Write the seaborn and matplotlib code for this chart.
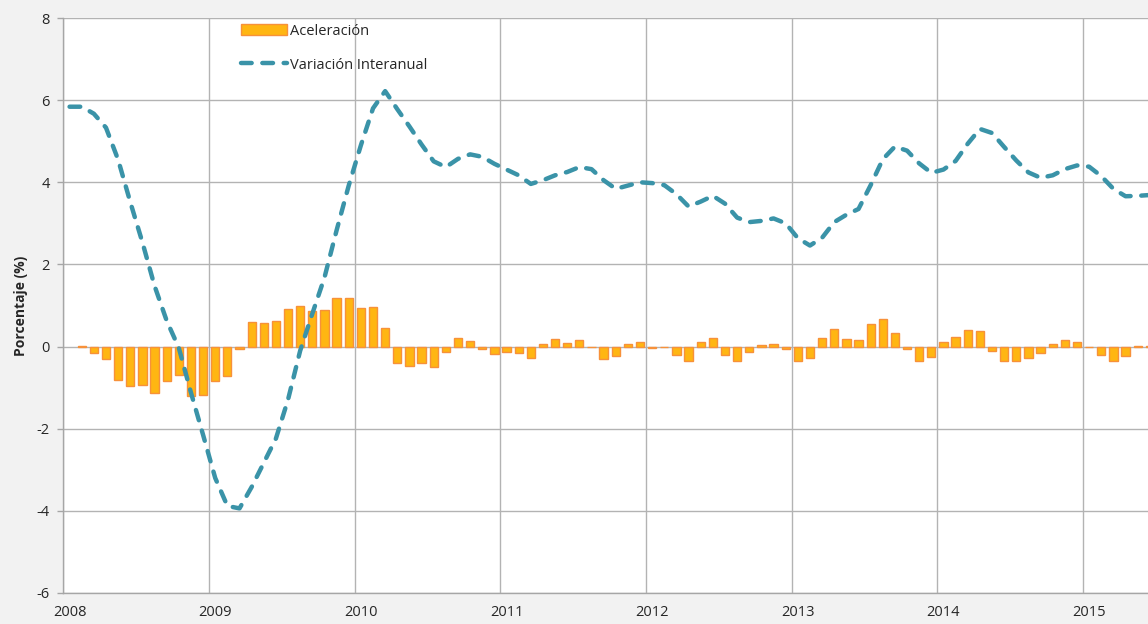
import numpy as np
import pandas as pd
import matplotlib.pyplot as plt
import seaborn as sns
from matplotlib.patches import Patch

# -------------------------
# Data (monthly, Jan 2008 - Jun 2015)
# -------------------------
years = [2008, 2009, 2010, 2011, 2012, 2013, 2014, 2015]

# month-on-month change of the year-on-year rate (bars)
aceleracion = [
    None, 0.02, -0.15, -0.31, -0.82, -0.96, -0.94, -1.12, -0.84, -0.70, -1.20, -1.17,
    -0.84, -0.71, -0.05, 0.59, 0.57, 0.63, 0.92, 0.99, 0.86, 0.90, 1.19, 1.19,
    0.95, 0.97, 0.46, -0.41, -0.47, -0.40, -0.49, -0.13, 0.20, 0.14, -0.05, -0.19,
    -0.12, -0.16, -0.27, 0.07, 0.18, 0.09, 0.15, -0.02, -0.30, -0.24, 0.07, 0.10,
    -0.03, -0.02, -0.21, -0.35, 0.10, 0.20, -0.20, -0.34, -0.14, 0.05, 0.07, -0.07,
    -0.35, -0.29, 0.20, 0.42, 0.19, 0.16, 0.56, 0.68, 0.32, -0.07, -0.36, -0.25,
    0.10, 0.24, 0.41, 0.37, -0.10, -0.35, -0.34, -0.29, -0.15, 0.07, 0.15, 0.11,
    -0.02, -0.20, -0.35, -0.22, 0.02, 0.02,
]

# year-on-year rate (dashed line)
variacion = [
    5.84, 5.84, 5.67, 5.33, 4.55, 3.52, 2.54, 1.48, 0.63, -0.03, -1.12, -2.15,
    -3.20, -3.88, -3.94, -3.42, -2.83, -2.24, -1.29, -0.10, 0.80, 1.68, 2.83, 3.92,
    4.90, 5.80, 6.22, 5.78, 5.36, 4.92, 4.51, 4.37, 4.57, 4.68, 4.62, 4.45,
    4.31, 4.17, 3.96, 4.05, 4.17, 4.25, 4.37, 4.32, 4.05, 3.84, 3.92, 4.00,
    3.98, 3.93, 3.71, 3.41, 3.53, 3.67, 3.48, 3.14, 3.03, 3.06, 3.12, 3.00,
    2.64, 2.46, 2.65, 3.03, 3.21, 3.35, 3.93, 4.56, 4.87, 4.77, 4.46, 4.23,
    4.31, 4.52, 4.94, 5.30, 5.20, 4.86, 4.53, 4.24, 4.11, 4.17, 4.32, 4.41,
    4.38, 4.15, 3.84, 3.66, 3.67, 3.69,
]

df = pd.DataFrame({
    "mes": np.arange(len(variacion)),
    "aceleracion": aceleracion,
    "variacion": variacion,
})

bar_fill = "#FFB612"
bar_edge = "#F7913A"
line_col = "#3A93A8"
grid_col = "#B3B3B3"

# -------------------------
# Style
# -------------------------
sns.set_style("white")
plt.rcParams["font.family"] = ["Open Sans", "DejaVu Sans"]
plt.rcParams["axes.unicode_minus"] = False

fig = plt.figure(figsize=(11.48, 6.24), dpi=100, facecolor="#F2F2F2")
ax = fig.add_axes([63.5 / 1148, 1 - 593 / 624, 1 - 63.5 / 1148, (593 - 18) / 624])
ax.set_facecolor("white")

# -------------------------
# Plot
# -------------------------
sns.lineplot(data=df, x="mes", y="variacion", color=line_col, linewidth=3.2,
             linestyle=(0, (2.4, 2.4)), dash_capstyle="round", zorder=3, ax=ax)

sns.barplot(data=df.dropna(subset=["aceleracion"]), x="mes", y="aceleracion",
            native_scale=True, color=bar_fill, saturation=1, edgecolor=bar_edge,
            linewidth=1, width=0.68, errorbar=None, zorder=2, ax=ax)

# -------------------------
# Axes
# -------------------------
ax.set_xlim(-0.5, 88.85)
ax.set_ylim(-6, 8)
ax.set_yticks(range(-6, 9, 2))

ax.set_xticks([12 * k - 0.5 for k in range(len(years))])
ax.set_xticklabels([])
ax.set_xticks([12 * k for k in range(len(years))], minor=True)
ax.set_xticklabels([str(y) for y in years], minor=True)

ax.grid(True, which="major", color=grid_col, linewidth=1.0)
ax.set_axisbelow(True)

ax.tick_params(axis="x", which="both", length=0, pad=9, labelsize=10.5)
ax.tick_params(axis="y", left=True, length=4, width=1, color="#A6A6A6",
               pad=6, labelsize=10.5)

for s in ["top", "right"]:
    ax.spines[s].set_visible(False)
for s in ["left", "bottom"]:
    ax.spines[s].set_color("#A6A6A6")
    ax.spines[s].set_linewidth(1.0)

ax.set_xlabel("")
ax.set_ylabel("Porcentaje (%)", fontweight="bold", fontsize=10)
ax.yaxis.set_label_coords(-0.033, 0.5)

# -------------------------
# Legend
# -------------------------
handles = [Patch(facecolor=bar_fill, edgecolor=bar_edge, linewidth=1),
           ax.get_lines()[0]]
ax.legend(handles, ["Aceleración", "Variación Interanual"],
          loc="upper left", bbox_to_anchor=(0.158, 1.0), frameon=False,
          fontsize=10.5, handlelength=3.2, handleheight=0.8,
          labelspacing=1.3, handletextpad=0.2, borderaxespad=0)

fig.savefig("out.png", dpi=100, facecolor=fig.get_facecolor())
